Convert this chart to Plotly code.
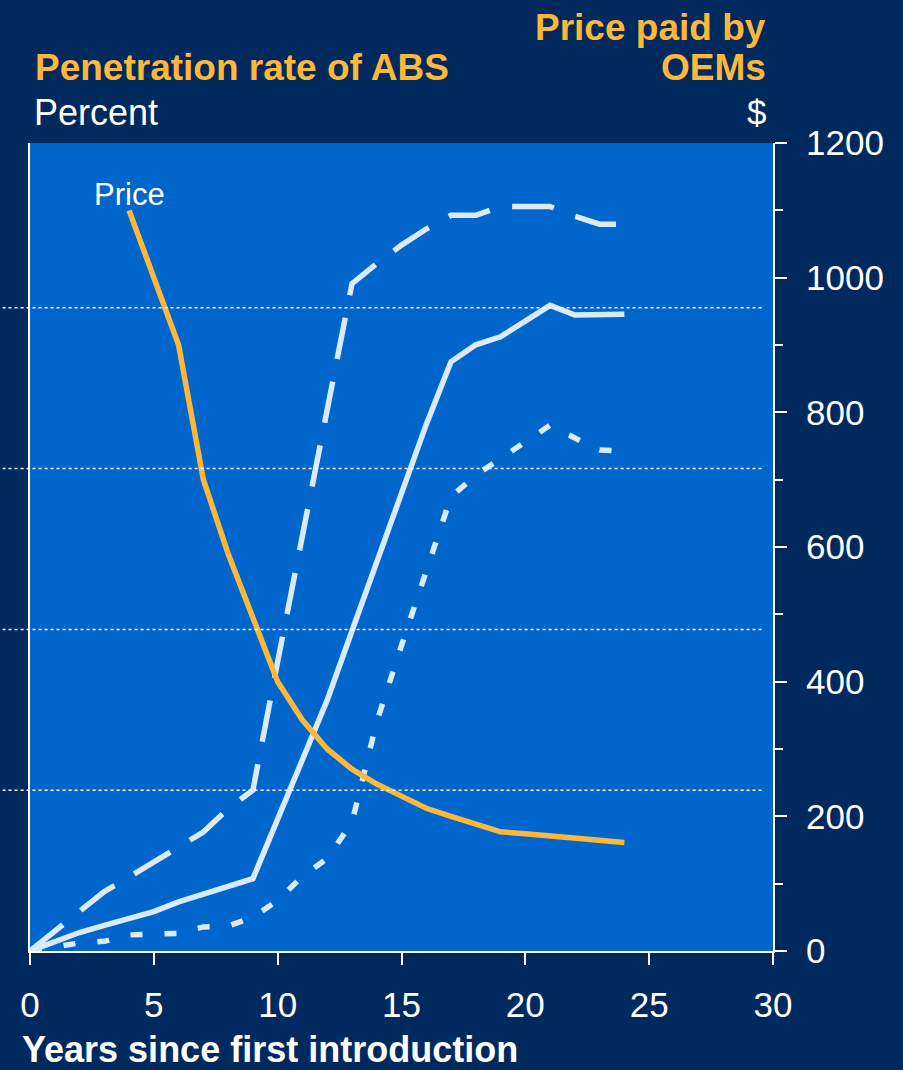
import plotly.graph_objects as go

# ---- data ----
years = list(range(0, 25))
series_dashed = [0, 2.5, 5.0, 7.4, 9.2, 11.1, 13.0, 14.8, 17.7, 20.0, 36.0, 51.5, 67.5,
                 83.0, 85.5, 87.8, 89.8, 91.5, 91.5, 92.6, 92.6, 92.6, 91.4, 90.4, 90.4]
series_solid = [0, 1.2, 2.3, 3.2, 4.0, 4.9, 6.1, 7.1, 8.1, 9.0, 16.4, 23.8, 31.2,
                39.8, 48.5, 57.2, 65.5, 73.3, 75.4, 76.4, 78.4, 80.3, 79.1, 79.2, 79.2]
series_dotted = [0, 0.5, 1.0, 1.2, 2.0, 2.1, 2.2, 3.0, 3.1, 4.2, 6.3, 9.3, 11.5,
                 16.0, 28.5, 38.0, 47.5, 56.5, 59.2, 61.2, 63.3, 65.4, 63.8, 62.3, 62.2]
price_years = list(range(4, 25))
price = [1100, 1000, 900, 700, 590, 495, 400, 343, 300, 270, 248, 230, 212,
         200, 188, 177, 174, 171, 167, 164, 161]
pct_gridlines = [20, 40, 60, 80]
x_ticks = [0, 5, 10, 15, 20, 25, 30]
price_ticks = [0, 200, 400, 600, 800, 1000, 1200]

NAVY = "#002a5e"
BLUE = "#0066cc"
LIGHT = "#dbeafb"
ORANGE = "#fdb83b"
FONT = "Liberation Sans, Arial, sans-serif"

fig = go.Figure()
fig.add_trace(go.Scatter(x=years, y=series_dashed, mode="lines", yaxis="y",
                         line=dict(color=LIGHT, width=5.5, dash="42px,23px"),
                         showlegend=False, hoverinfo="skip"))
fig.add_trace(go.Scatter(x=years, y=series_solid, mode="lines", yaxis="y",
                         line=dict(color=LIGHT, width=5.5),
                         showlegend=False, hoverinfo="skip"))
fig.add_trace(go.Scatter(x=years, y=series_dotted, mode="lines", yaxis="y",
                         line=dict(color=LIGHT, width=5.5, dash="12px,22px"),
                         showlegend=False, hoverinfo="skip"))
fig.add_trace(go.Scatter(x=price_years, y=price, mode="lines", yaxis="y2",
                         line=dict(color=ORANGE, width=5.5),
                         showlegend=False, hoverinfo="skip"))

for g in pct_gridlines:
    fig.add_shape(type="line", xref="paper", yref="y", x0=-0.045, x1=0.985,
                  y0=g, y1=g, line=dict(color="white", width=1.5, dash="dot"),
                  layer="above")

fig.update_layout(
    width=903, height=1070,
    margin=dict(l=30, r=130, t=143, b=119),
    paper_bgcolor=NAVY, plot_bgcolor=BLUE,
    font=dict(family=FONT, color="white", size=35),
    xaxis=dict(range=[0, 30], tickvals=x_ticks, ticks="outside", ticklen=12,
               tickwidth=2, tickcolor="white", showline=True, linecolor="white",
               linewidth=2, showgrid=False, zeroline=False, ticklabelstandoff=10,
               tickfont=dict(size=35, color="white", family=FONT)),
    yaxis=dict(range=[0, 100.5], showticklabels=False, ticks="", showgrid=False,
               showline=True, linecolor="white", linewidth=2, zeroline=False),
    yaxis2=dict(range=[0, 1200], overlaying="y", side="right", tickvals=price_ticks,
                ticks="outside", ticklen=12, tickwidth=2, tickcolor="white",
                minor=dict(dtick=100, ticklen=8, tickwidth=2, tickcolor="white",
                           ticks="outside", showgrid=False),
                showline=True, linecolor="white", linewidth=2, showgrid=False,
                zeroline=False, ticklabelstandoff=12,
                tickfont=dict(size=35, color="white", family=FONT)),
)

ann = [
    dict(text="<b>Penetration rate of ABS</b>", x=0.004, y=1.093, xanchor="left",
         yanchor="middle", font=dict(size=37, color=ORANGE)),
    dict(text="Percent", x=0.003, y=1.038, xanchor="left", yanchor="middle",
         font=dict(size=36, color="white")),
    dict(text="<b>Price paid by</b>", x=0.993, y=1.1425, xanchor="right",
         yanchor="middle", font=dict(size=37, color=ORANGE)),
    dict(text="<b>OEMs</b>", x=0.993, y=1.093, xanchor="right",
         yanchor="middle", font=dict(size=37, color=ORANGE)),
    dict(text="$", x=0.993, y=1.038, xanchor="right", yanchor="middle",
         font=dict(size=35, color="white")),
    dict(text="<b>Years since first introduction</b>", x=-0.0135, y=-0.122,
         xanchor="left", yanchor="middle", font=dict(size=36, color="white")),
]
for a in ann:
    fig.add_annotation(xref="paper", yref="paper", showarrow=False, **a)

fig.add_annotation(x=price_years[0], y=price[0], xref="x", yref="y2", text="Price",
                   showarrow=False, xanchor="center", yanchor="bottom", yshift=-4,
                   font=dict(size=31, color="white"))

fig.write_html("out.html", config={"displayModeBar": False},
               post_script="document.body.style.margin='0px';"
               "document.body.style.overflow='hidden';")
